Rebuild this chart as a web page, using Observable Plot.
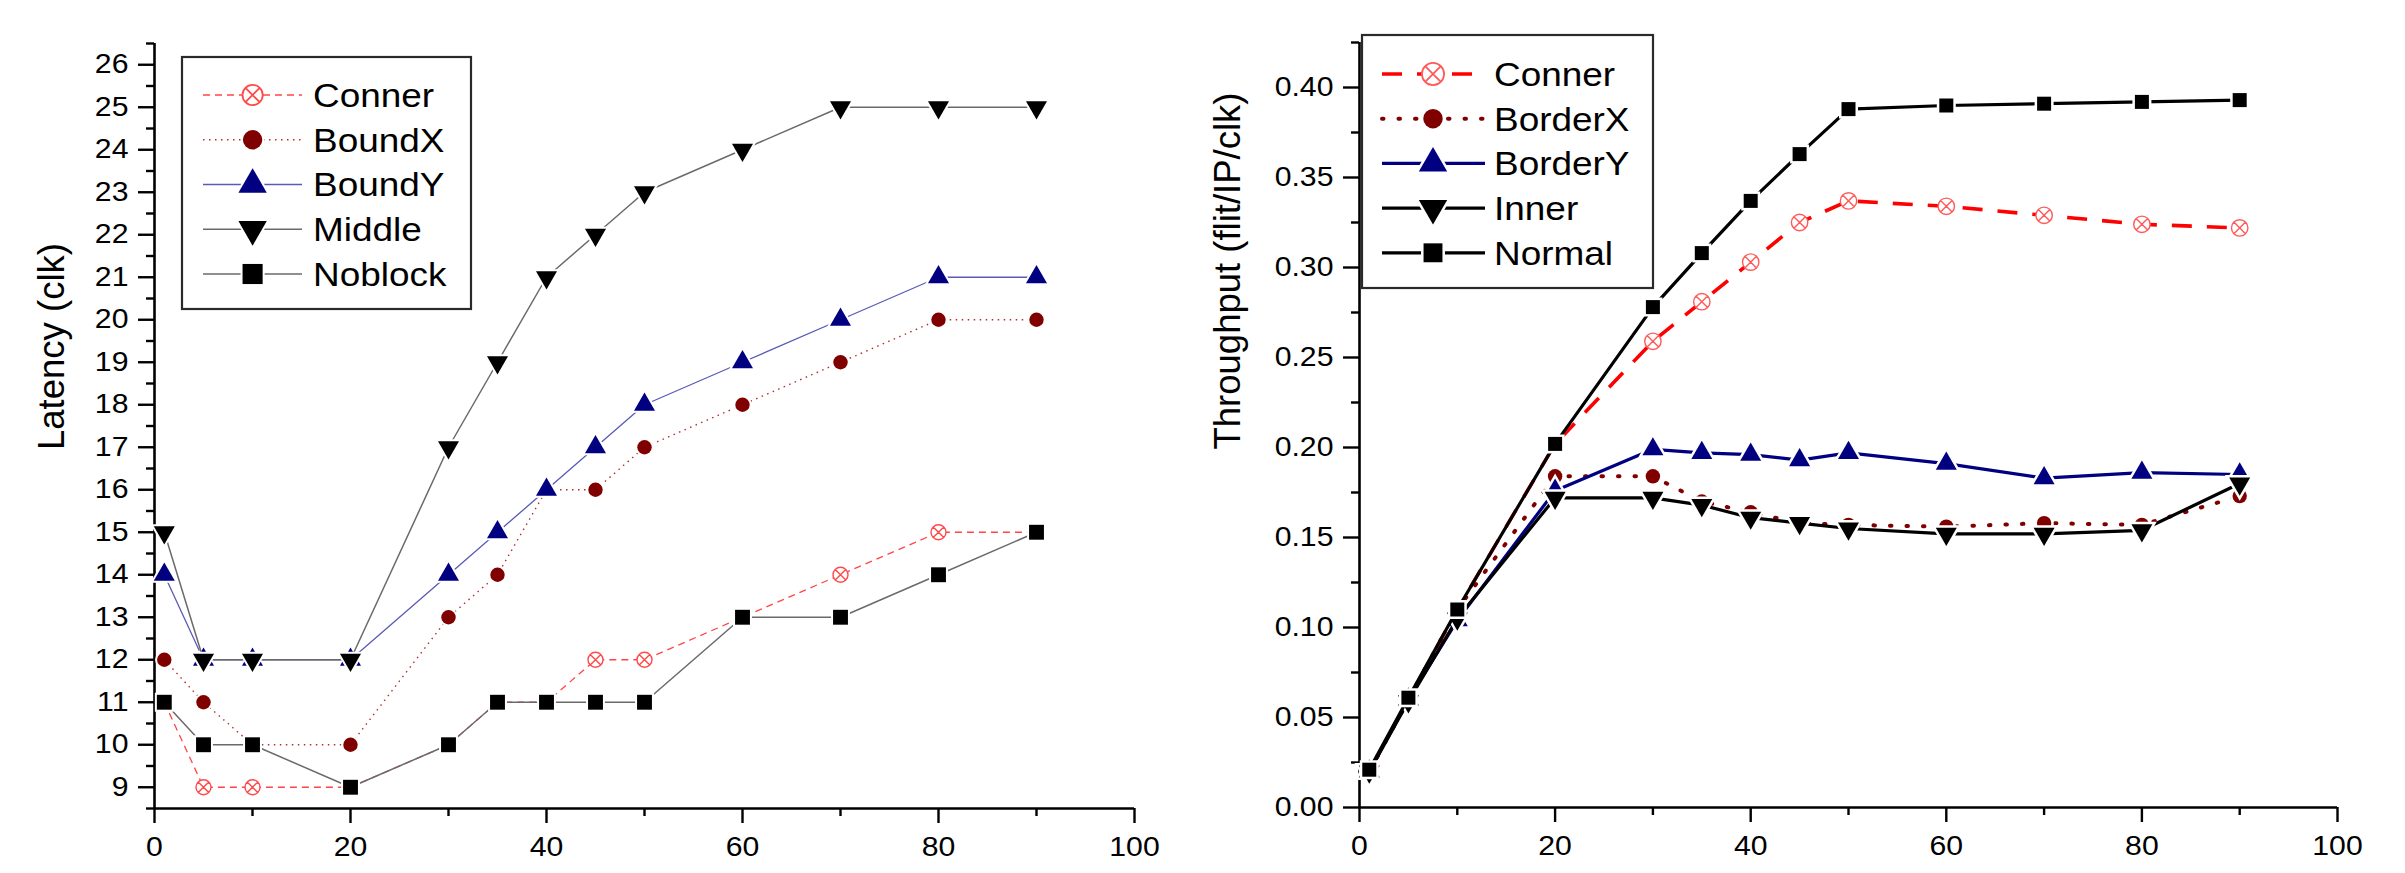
<!DOCTYPE html>
<html><head><meta charset="utf-8">
<script src="https://cdn.jsdelivr.net/npm/d3@7"></script>
<script src="https://cdn.jsdelivr.net/npm/@observablehq/plot@0.6"></script>
<style>
body{margin:0;background:#fff}
#wrap{display:flex;width:2405px;height:873px;background:#fff}
svg{display:block}
</style></head><body><div id="wrap"></div>
<script>
// ---------- data ----------
const loads = [1, 5, 10, 20, 30, 35, 40, 45, 50, 60, 70, 80, 90];
const xTicksMajor = [0, 20, 40, 60, 80, 100];
const xTicksMinor = [10, 30, 50, 70, 90];

// Latency (left)
const latNames = ["Conner", "BoundX", "BoundY", "Middle", "Noblock"];
const latConner  = [11, 9, 9, 9, 10, 11, 11, 12, 12, 13, 14, 15, 15];
const latBoundX  = [12, 11, 10, 10, 13, 14, 16, 16, 17, 18, 19, 20, 20];
const latBoundY  = [14, 12, 12, 12, 14, 15, 16, 17, 18, 19, 20, 21, 21];
const latMiddle  = [15, 12, 12, 12, 17, 19, 21, 22, 23, 24, 25, 25, 25];
const latNoblock = [11, 10, 10, 9, 10, 11, 11, 11, 11, 13, 13, 14, 15];
const latYMajor = [9, 10, 11, 12, 13, 14, 15, 16, 17, 18, 19, 20, 21, 22, 23, 24, 25, 26];
const latYMinor = [8.5, 9.5, 10.5, 11.5, 12.5, 13.5, 14.5, 15.5, 16.5, 17.5, 18.5, 19.5, 20.5, 21.5, 22.5, 23.5, 24.5, 25.5, 26.5];
const latLabel = "Latency (clk)";

// Throughput (right)
const thrNames = ["Conner", "BorderX", "BorderY", "Inner", "Normal"];
const thrConner  = [0.020, 0.060, 0.110, 0.202, 0.259, 0.281, 0.303, 0.325, 0.337, 0.334, 0.329, 0.324, 0.322];
const thrBorderX = [0.020, 0.060, 0.110, 0.184, 0.184, 0.170, 0.164, 0.158, 0.157, 0.156, 0.158, 0.157, 0.173];
const thrBorderY = [0.020, 0.060, 0.104, 0.176, 0.199, 0.197, 0.196, 0.193, 0.197, 0.191, 0.183, 0.186, 0.185];
const thrInner   = [0.020, 0.059, 0.105, 0.172, 0.172, 0.168, 0.161, 0.158, 0.155, 0.152, 0.152, 0.154, 0.180];
const thrNormal  = [0.021, 0.061, 0.110, 0.202, 0.278, 0.308, 0.337, 0.363, 0.388, 0.390, 0.391, 0.392, 0.393];
const thrYMajor = [0, 0.05, 0.10, 0.15, 0.20, 0.25, 0.30, 0.35, 0.40];
const thrYMinor = [0.025, 0.075, 0.125, 0.175, 0.225, 0.275, 0.325, 0.375, 0.425];
const thrLabel = "Throughput (flit/IP/clk)";

// ---------- symbols ----------
const sq3 = Math.sqrt(3);
const symDown = {draw(c, size) {
  const y = -Math.sqrt(size / (sq3 * 3));
  c.moveTo(0, -2 * y); c.lineTo(-sq3 * y, y); c.lineTo(sq3 * y, y); c.closePath();
}};
const symCircleX = {draw(c, size) {
  const r = Math.sqrt(size / Math.PI);
  c.moveTo(r, 0); c.arc(0, 0, r, 0, 2 * Math.PI);
  const a = r * Math.SQRT1_2;
  c.moveTo(-a, -a); c.lineTo(a, a); c.moveTo(-a, a); c.lineTo(a, -a);
}};
const d3Sym = {circle: d3.symbolCircle, triangle: d3.symbolTriangle, square: d3.symbolSquare};
const symOf = s => (s === "down" ? symDown : s === "circleX" ? symCircleX : s);
const d3SymOf = s => (s === "down" ? symDown : s === "circleX" ? symCircleX : d3Sym[s]);

// ---------- styles ----------
const latStyles = [
  {line: "#ff4545", lw: 1.3, dash: "7,5", sym: "circleX", r: 7.5, fill: "white", stroke: "#ff4a4a", sw: 1.4, order: "normal"},
  {line: "#b03030", lw: 1.4, dash: "1.5,4.5", sym: "circle", r: 7.2, fill: "#800000", stroke: "white", sw: 4, order: "stroke"},
  {line: "#5a5ab8", lw: 1.3, dash: null, sym: "triangle", r: 7.8, fill: "#000080", stroke: "white", sw: 4, order: "stroke"},
  {line: "#6a6a6a", lw: 1.5, dash: null, sym: "down", r: 7.8, fill: "black", stroke: "white", sw: 4, order: "stroke"},
  {line: "#6a6a6a", lw: 1.5, dash: null, sym: "square", r: 8.4, fill: "black", stroke: "white", sw: 4, order: "stroke"}
];
const thrStyles = [
  {line: "#ff0000", lw: 3.6, dash: "20,15", sym: "circleX", r: 8.2, fill: "white", stroke: "#ff5a5a", sw: 1.4, order: "normal"},
  {line: "#800000", lw: 4, dash: "1.5,15", cap: "round", sym: "circle", r: 7.2, fill: "#800000", stroke: "white", sw: 5, order: "stroke"},
  {line: "#000080", lw: 3.2, dash: null, sym: "triangle", r: 7.8, fill: "#000080", stroke: "white", sw: 5, order: "stroke"},
  {line: "#000000", lw: 3.2, dash: null, sym: "down", r: 7.8, fill: "black", stroke: "white", sw: 5, order: "stroke"},
  {line: "#000000", lw: 3.2, dash: null, sym: "square", r: 7.9, fill: "black", stroke: "white", sw: 5, order: "stroke"}
];

const FONT = "'Liberation Sans', Arial, Helvetica, sans-serif";
const STRETCH = 1.12;

function seriesMarks(ys, st) {
  const data = loads.map((x, i) => ({x, y: ys[i]}));
  return [
    Plot.line(data, {x: "x", y: "y", stroke: st.line, strokeWidth: st.lw, strokeDasharray: st.dash || undefined, strokeLinecap: st.cap || "butt"}),
    Plot.dot(data, {x: "x", y: "y", symbol: symOf(st.sym), r: st.r, fill: st.fill, stroke: st.stroke, strokeWidth: st.sw, paintOrder: st.order})
  ];
}

function makeChart(cfg) {
  const marks = [
    Plot.ruleX([cfg.xDomain[0]], {stroke: "black", strokeWidth: 2.6}),
    Plot.ruleY([cfg.yDomain[0]], {stroke: "black", strokeWidth: 2.6}),
    Plot.axisY({ticks: cfg.yMajor, tickSize: 16, tickPadding: 10, tickFormat: cfg.yFormat, fontSize: 27, strokeWidth: 2.4, label: null}),
    Plot.axisY({ticks: cfg.yMinor, tickSize: 8, tickFormat: () => "", strokeWidth: 2.4, label: null}),
    Plot.axisX({ticks: xTicksMajor, tickSize: 15, tickPadding: 13, tickFormat: d => String(d), fontSize: 27, strokeWidth: 2.4, label: null}),
    Plot.axisX({ticks: xTicksMinor, tickSize: 8, tickFormat: () => "", strokeWidth: 2.4, label: null}),
    Plot.text([cfg.label], {text: d => d, frameAnchor: "left", dx: cfg.labelDx, dy: cfg.labelDy, rotate: -90, fontSize: 36.5, fill: "black"})
  ];
  cfg.series.forEach((ys, i) => marks.push(...seriesMarks(ys, cfg.styles[i])));
  const svg = Plot.plot({
    width: cfg.width, height: 873,
    marginLeft: cfg.ml, marginRight: cfg.mr, marginTop: cfg.mt, marginBottom: cfg.mb,
    x: {domain: cfg.xDomain},
    y: {domain: cfg.yDomain},
    style: {fontFamily: FONT, background: "white", color: "black", overflow: "visible"},
    marks
  });
  // horizontal stretch of tick labels (the reference text is slightly wide)
  d3.select(svg).selectAll('g[aria-label$="tick label"] text').each(function () {
    const t = this.getAttribute("transform") || "";
    this.setAttribute("transform", `${t} scale(${STRETCH},1)`);
  });
  // legend
  const L = cfg.legend;
  const g = d3.select(svg).append("g").attr("aria-label", "legend").attr("text-anchor", "start");
  g.append("rect").attr("x", L.x).attr("y", L.y).attr("width", L.w).attr("height", L.h)
    .attr("fill", "white").attr("stroke", "#2a2a2a").attr("stroke-width", 2.2);
  cfg.names.forEach((name, i) => {
    const st = cfg.styles[i];
    const ry = L.row0 + i * L.dy;
    g.append("line").attr("x1", L.lx0).attr("x2", L.lx1).attr("y1", ry).attr("y2", ry)
      .attr("stroke", st.line).attr("stroke-width", st.lw)
      .attr("stroke-dasharray", st.dash || null).attr("stroke-linecap", st.cap || "butt");
    const rr = st.r * L.mscale;
    g.append("path").attr("transform", `translate(${L.mx},${ry})`)
      .attr("d", d3.symbol(d3SymOf(st.sym), Math.PI * rr * rr)())
      .attr("fill", st.fill).attr("stroke", st.stroke).attr("stroke-width", st.sym === "circleX" ? 1.8 : st.sw)
      .attr("paint-order", st.order);
    g.append("text").attr("text-anchor", "start")
      .attr("transform", `translate(${L.tx},${ry + 0.358 * L.fs}) scale(${STRETCH},1)`)
      .attr("font-size", L.fs).attr("font-family", FONT).attr("fill", "black").text(name);
  });
  return svg;
}

const wrap = document.getElementById("wrap");
wrap.appendChild(makeChart({
  width: 1200, ml: 154, mr: 66, mt: 43, mb: 65,
  xDomain: [0, 100], yDomain: [8.5, 26.5],
  yMajor: latYMajor, yMinor: latYMinor, yFormat: d => String(d),
  label: latLabel, labelDx: -102, labelDy: 24,
  names: latNames, series: [latConner, latBoundX, latBoundY, latMiddle, latNoblock], styles: latStyles,
  legend: {x: 182, y: 57, w: 289, h: 252, row0: 95, dy: 44.75, lx0: 203, lx1: 302, mx: 252.6, tx: 313, fs: 33, mscale: 1.35}
}));
wrap.appendChild(makeChart({
  width: 1205, ml: 159, mr: 68, mt: 42, mb: 66,
  xDomain: [0, 100], yDomain: [0, 0.425],
  yMajor: thrYMajor, yMinor: thrYMinor, yFormat: d3.format(".2f"),
  label: thrLabel, labelDx: -131, labelDy: 24.5,
  names: thrNames, series: [thrConner, thrBorderX, thrBorderY, thrInner, thrNormal], styles: thrStyles,
  legend: {x: 162, y: 35, w: 291, h: 253, row0: 74, dy: 44.7, lx0: 182, lx1: 285, mx: 233, tx: 294, fs: 33, mscale: 1.35}
}));
</script></body></html>
